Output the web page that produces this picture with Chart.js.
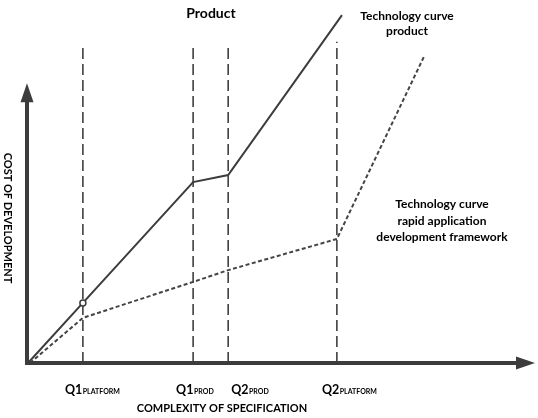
<!DOCTYPE html>
<html>
<head>
<meta charset="utf-8">
<script src="https://cdn.jsdelivr.net/npm/chart.js@4"></script>
<style>
html, body { margin: 0; padding: 0; background: #fff; }
#wrap { width: 538px; height: 418px; position: relative; }
</style>
</head>
<body>
<div id="wrap"><canvas id="myChart"></canvas></div>
<script>
// milestones on the complexity axis
const milestoneMain = ['Q1', 'Q1', 'Q2', 'Q2']
const milestoneSub = ['PLATFORM', 'PROD', 'PROD', 'PLATFORM']
const milestoneX = [11.0, 32.7, 39.6, 61.0]
const milestoneTop = [100, 100, 100, 101]

// technology curve: product
const productX = [0.2, 11.0, 32.7, 39.6, 62.0]
const productY = [0, 18.9, 56.9, 59.1, 109.4]

// technology curve: rapid application development framework
const rapidX = [0.6, 11.0, 32.7, 39.6, 61.0, 78.1]
const rapidY = [0, 14.2, 25.5, 29.2, 39.0, 96.2]

const FONT = 'Lato, "Open Sans", sans-serif'
const INK = '#3c3c3c'
const labelShift = [-18, -17, 3, -15]

const toPoints = (xs, ys) => xs.map((v, i) => ({x: v, y: ys[i]}))

const milestoneSets = milestoneX.map((v, i) => ({
  data: [{x: v, y: 0}, {x: v, y: milestoneTop[i]}],
  borderColor: '#333',
  borderWidth: 1.5,
  borderDash: [11, 5],
  pointRadius: 0
}))

const decor = {
  id: 'decor',
  afterDatasetsDraw(chart) {
    const {ctx, scales: {x, y}} = chart
    const x0 = x.getPixelForValue(0)
    const y0 = y.getPixelForValue(0)
    const xEnd = x.getPixelForValue(100)
    const yEnd = y.getPixelForValue(88)
    ctx.save()
    ctx.strokeStyle = INK
    ctx.fillStyle = INK
    ctx.lineWidth = 4
    ctx.beginPath()
    ctx.moveTo(x0, y0 + 2)
    ctx.lineTo(x0, yEnd + 18)
    ctx.moveTo(x0 - 2, y0)
    ctx.lineTo(xEnd - 16, y0)
    ctx.stroke()
    ctx.beginPath()
    ctx.moveTo(x0, yEnd)
    ctx.lineTo(x0 - 6.5, yEnd + 19)
    ctx.lineTo(x0 + 6.5, yEnd + 19)
    ctx.closePath()
    ctx.fill()
    ctx.beginPath()
    ctx.moveTo(xEnd, y0)
    ctx.lineTo(xEnd - 19, y0 - 6.5)
    ctx.lineTo(xEnd - 19, y0 + 6.5)
    ctx.closePath()
    ctx.fill()

    // milestone labels with small-caps subscript
    ctx.fillStyle = '#000'
    ctx.textBaseline = 'alphabetic'
    ctx.textAlign = 'left'
    milestoneX.forEach((v, i) => {
      const px = x.getPixelForValue(v) + labelShift[i]
      ctx.font = 'bold 12.5px ' + FONT
      ctx.fillText(milestoneMain[i], px, 394)
      const w = ctx.measureText(milestoneMain[i]).width
      ctx.font = 'bold 7px ' + FONT
      ctx.fillText(milestoneSub[i], px + w + 0.5, 394)
    })

    ctx.textAlign = 'center'
    ctx.textBaseline = 'middle'
    ctx.font = 'bold 14px ' + FONT
    ctx.fillText('Product', 211, 13)
    ctx.font = 'bold 12px ' + FONT
    ctx.fillText('Technology curve', 407, 16)
    ctx.fillText('product', 407, 31)
    ctx.fillText('Technology curve', 442, 204)
    ctx.fillText('rapid application', 442, 221)
    ctx.fillText('development framework', 442, 237)
    ctx.font = 'bold 11px ' + FONT
    ctx.fillText('COMPLEXITY OF SPECIFICATION', 222, 408)
    ctx.translate(8, 218)
    ctx.rotate(Math.PI / 2)
    ctx.fillText('COST OF DEVELOPMENT', 0, 0)
    ctx.restore()
  }
}

const context = document.querySelector('#myChart')

new Chart(context, {
  type: 'line',
  data: {
    datasets: [
      {
        data: toPoints(productX, productY),
        borderColor: INK,
        borderWidth: 2,
        pointRadius: productX.map((v, i) => i === 1 ? 3 : 0),
        pointBackgroundColor: '#fff',
        pointBorderColor: INK,
        pointBorderWidth: 1.5,
        tension: 0
      },
      {
        data: toPoints(rapidX, rapidY),
        borderColor: '#444',
        borderWidth: 2,
        borderDash: [4, 2.5],
        pointRadius: 0,
        tension: 0
      },
      ...milestoneSets
    ]
  },
  options: {
    responsive: true,
    maintainAspectRatio: false,
    animation: false,
    clip: false,
    layout: {padding: {left: 27, right: 3, top: 45, bottom: 55}},
    scales: {
      x: {type: 'linear', min: 0, max: 100, display: false},
      y: {type: 'linear', min: 0, max: 100, display: false}
    },
    plugins: {
      legend: {display: false},
      tooltip: {enabled: false}
    }
  },
  plugins: [decor]
})
</script>
</body>
</html>
